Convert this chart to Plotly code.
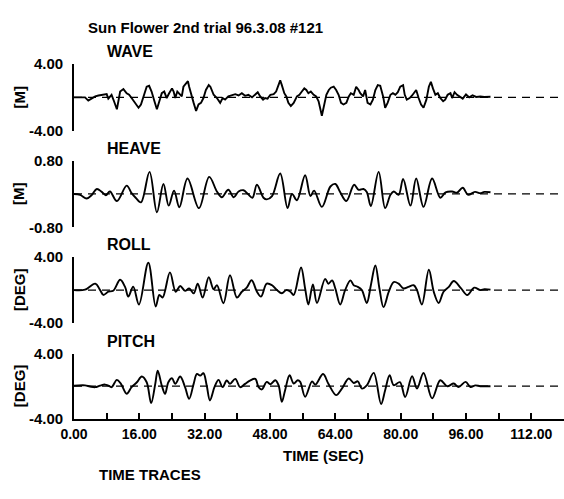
import plotly.graph_objects as go

# ---------------- data ----------------
time_ticks = [0, 8, 16, 24, 32, 40, 48, 56, 64, 72, 80, 88, 96, 104, 112, 120]
time_labels = ["0.00", "", "16.00", "", "32.00", "", "48.00", "", "64.00", "",
               "80.00", "", "96.00", "", "112.00", ""]

zero_t = [0, 120]
zero_v = [0, 0]

wave_t = [0.0, 1.5, 2.7, 3.5, 5.2, 6.0, 7.2, 8.0, 8.4, 9.2, 9.8, 10.5, 11.3, 12.1, 12.9, 13.5,
          14.1, 15.0, 15.8, 16.4, 17.0, 17.8, 18.4, 19.0, 19.7, 20.3, 20.9, 21.5, 22.1, 22.7,
          23.3, 24.0, 24.4, 24.8, 25.3, 25.7, 26.4, 26.8, 27.4, 27.9, 28.2, 28.7, 29.3, 29.9,
          30.5, 31.1, 31.7, 32.3, 33.0, 33.4, 34.2, 35.0, 35.8, 36.4, 37.0, 37.8, 38.7, 39.5,
          40.3, 41.1, 41.9, 42.7, 43.6, 44.4, 45.0, 45.6, 46.3, 46.8, 47.4, 48.1, 48.9, 49.5,
          50.1, 50.5, 50.9, 51.5, 52.0, 52.5, 53.1, 53.8, 54.6, 55.2, 55.8, 56.4, 56.9, 57.4,
          58.0, 58.7, 59.3, 59.9, 60.7, 61.3, 61.8, 62.4, 62.9, 63.6, 64.2, 64.8, 65.4, 66.0,
          66.7, 67.3, 67.8, 68.5, 69.1, 69.7, 70.1, 70.8, 71.3, 71.9, 72.6, 73.2, 73.8, 74.4,
          75.0, 75.7, 76.2, 76.8, 77.5, 78.1, 78.7, 79.3, 79.9, 80.6, 81.0, 81.5, 82.2, 82.8,
          83.3, 83.8, 84.4, 85.0, 85.6, 86.3, 86.9, 87.4, 87.9, 88.5, 89.1, 89.7, 90.4, 90.9,
          91.5, 92.2, 92.6, 93.2, 93.8, 94.5, 95.2, 96.0, 96.8, 97.6, 98.5, 99.5, 100.5, 102.0]
wave_v = [0.0, 0.02, 0.0, -0.39, 0.12, 0.23, 0.31, 0.39, -0.15, 0.31, -0.46, -1.43, 0.70, 1.0, 0.5, 0.31,
          -0.08, -0.66, -1.24, -0.85, 0.12, 1.28, 1.39, 0.70, -0.46, -1.43, -0.46, 0.5, 0.70, -0.08,
          0.5, 1.08, 0.70, -0.08, 0.70, 0.5, 0.12, 1.28, 1.66, 1.94, 1.28, 0.31, -0.66, -1.63,
          -0.85, -0.66, -0.08, 0.89, 1.47, 1.28, 0.31, -0.08, -0.66, -0.08, -0.27, 0.12, 0.31, 0.39,
          0.23, 0.5, 0.19, 0.31, 0.0, 0.31, 0.62, 0.12, -0.27, -0.08, -0.15, 0.31, 0.39, 0.70,
          1.47, 2.05, 1.47, 0.5, 0.12, -0.66, -1.04, -0.66, 0.12, 0.31, 0.70, 1.08, 0.89, 0.5,
          0.70, 0.31, 0.12, -0.46, -2.2, -0.85, 0.31, 0.89, 1.16, 1.28, 0.89, 0.31, -0.66, -0.85,
          -0.66, 0.12, 0.5, 0.31, 1.28, 0.89, 0.5, 0.12, 0.89, -0.66, -0.85, -0.27, 0.89, 1.47,
          1.39, 0.12, -1.24, -0.66, 0.31, 0.5, 0.31, 0.62, 1.28, 1.47, 0.31, -0.27, -0.08, 0.23,
          0.5, 0.89, -0.08, -0.85, -1.24, -0.27, 1.28, 1.86, 1.08, 0.31, 0.5, -0.08, -0.46, -0.27,
          0.31, 0.5, -0.08, 0.62, 0.31, 0.12, -0.15, 0.35, 0.0, 0.25, 0.05, 0.1, 0.05, 0.08]

heave_t = [0.0, 1.5, 3.1, 4.3, 5.6, 6.8, 7.8, 8.8, 10.5, 12.9, 14.1, 15.1, 16.4, 18.5, 20.3, 21.9,
           23.2, 24.5, 25.8, 27.8, 30.6, 33.1, 35.0, 36.2, 37.8, 39.1, 40.3, 41.5, 42.6, 43.7,
           44.8, 46.4, 47.2, 48.5, 50.5, 52.3, 53.4, 54.6, 56.6, 57.9, 58.8, 60.7, 62.8, 64.0,
           65.2, 66.7, 68.6, 69.7, 70.9, 71.7, 72.7, 74.6, 76.2, 77.5, 78.3, 79.5, 80.6, 82.4,
           83.8, 85.6, 87.7, 89.7, 91.0, 92.6, 93.8, 95.2, 96.5, 98.2, 99.5, 100.5, 102.0]
heave_v = [0.0, -0.02, -0.11, -0.03, 0.12, 0.05, -0.03, 0.06, -0.17, 0.20, 0.02, -0.09, -0.20, 0.53, -0.44, 0.24,
           -0.28, 0.08, -0.32, 0.37, -0.34, 0.41, 0.06, -0.08, 0.10, -0.08, 0.06, 0.09, 0.0, -0.09,
           0.22, -0.09, -0.13, -0.05, 0.49, -0.34, 0.0, -0.15, 0.45, -0.05, 0.08, -0.31, 0.18, 0.24,
           0.04, -0.17, 0.22, 0.10, 0.12, 0.05, -0.29, 0.53, -0.34, -0.02, 0.06, -0.02, 0.36, -0.28,
           0.37, -0.31, 0.37, -0.09, 0.04, 0.06, 0.03, 0.15, -0.02, 0.05, 0.02, 0.05, 0.04]

roll_t = [0.0, 2.7, 5.2, 6.4, 7.2, 8.4, 9.6, 11.3, 12.5, 13.3, 14.5, 15.9, 18.2, 20.0, 20.9, 21.7,
          23.5, 24.9, 26.0, 27.2, 28.2, 29.3, 30.3, 31.5, 33.0, 34.2, 35.0, 36.6, 38.2, 39.9,
          41.1, 42.3, 43.5, 44.8, 45.8, 47.2, 48.5, 49.7, 50.9, 52.0, 53.0, 53.8, 55.6, 56.6,
          57.4, 58.5, 59.5, 61.5, 62.3, 63.2, 64.0, 65.2, 66.4, 67.7, 68.5, 69.5, 70.5, 71.7,
          72.7, 73.8, 74.8, 75.8, 77.1, 78.3, 79.5, 80.7, 81.9, 83.2, 84.0, 85.2, 86.9, 88.1,
          89.3, 90.5, 91.8, 93.0, 94.8, 96.3, 98.0, 99.5, 100.5, 102.0]
roll_v = [0.0, 0.05, 0.78, 0.0, -0.59, -0.2, -0.08, 1.25, 0.39, -0.78, 0.4, -1.76, 3.33, -2.0, -0.6, -0.9,
          2.16, -0.2, 0.5, -0.1, 0.2, -0.4, 0.78, -0.9, 1.57, 0.1, 0.6, -1.6, 1.8, -0.9,
          -0.2, 0.3, 1.2, -0.2, -0.8, 0.78, 0.59, 0.0, -0.39, 0.0, -0.2, -0.59, 2.75, 0.2,
          -1.76, 0.7, -1.57, 1.37, 0.78, 1.18, 0.2, -1.76, 0.0, 1.18, 0.59, 0.39, 0.0, -1.57,
          0.59, 3.0, 0.2, -2.08, -0.2, 0.98, 0.78, 0.2, 0.39, 0.59, 0.0, -1.76, 2.47, -0.2,
          -1.57, -0.2, 0.39, 1.1, 0.2, -0.6, 0.3, 0.0, 0.1, 0.05]

pitch_t = [0.0, 2.7, 3.9, 5.2, 6.4, 7.6, 8.4, 9.2, 10.5, 11.5, 12.9, 14.1, 15.4, 16.6, 17.8, 18.9,
           19.9, 20.5, 21.5, 22.3, 23.1, 24.0, 24.8, 26.0, 27.2, 28.2, 29.3, 30.1, 30.9, 31.7,
           32.5, 33.3, 34.4, 35.4, 36.4, 37.4, 38.2, 39.5, 40.7, 41.9, 43.1, 44.4, 45.2, 46.0,
           47.2, 48.1, 49.3, 50.1, 50.9, 51.7, 52.8, 53.8, 54.8, 55.4, 56.6, 58.3, 59.1, 61.0,
           62.3, 64.2, 65.6, 67.3, 68.5, 69.5, 70.5, 71.7, 73.4, 75.2, 76.2, 77.3, 78.3, 79.8,
           81.1, 82.8, 84.0, 85.6, 87.7, 89.7, 91.4, 93.0, 94.2, 95.9, 97.1, 98.3, 99.5, 102.0]
pitch_v = [0.05, 0.1, -0.04, -0.12, 0.08, 0.2, 0.08, -0.12, 0.78, 0.29, -0.94, -0.12, 0.49, 1.19, 0.49, -2.09,
           0.29, 1.93, 0.08, -0.94, 0.49, 0.98, 0.29, 1.19, -0.12, -1.56, 0.29, 1.52, 1.31, 1.6,
           0.08, -1.76, -0.12, 0.78, -0.12, 0.7, 0.29, 0.9, -0.12, 0.29, 0.7, 0.9, -0.12, -0.4,
           0.53, 0.25, 0.74, 0.12, -1.93, -0.49, 1.35, 0.33, 0.74, 0.53, -1.3, 0.6, 0.2, 1.5,
           0.3, -1.1, -0.3, 0.95, 0.4, 0.6, -0.3, 0.1, 1.64, -2.2, -0.5, 1.35, 0.12, 0.5,
           -1.33, 1.23, -0.3, 1.64, -1.5, 0.74, 0.0, 0.33, -0.1, 0.53, -0.1, 0.1, 0.0, 0.0]

panel_names = ["WAVE", "HEAVE", "ROLL", "PITCH"]
panel_units = ["[M]", "[M]", "[DEG]", "[DEG]"]
panel_ranges = [[-4, 4], [-0.8, 0.8], [-4, 4], [-4, 4]]
panel_ticktext = [["-4.00", "4.00"], ["-0.80", "0.80"], ["-4.00", "4.00"], ["-4.00", "4.00"]]
series_t = [wave_t, heave_t, roll_t, pitch_t]
series_v = [wave_v, heave_v, roll_v, pitch_v]
series_shape = ["linear", "spline", "spline", "spline"]

# ---------------- layout ----------------
W, H = 564, 499
ML = 74
panel_px = [(57, 126), (157, 226), (257, 325), (357, 424)]  # top, bottom pixel rows

FONT = "Liberation Sans Narrow, Arial Narrow, Liberation Sans, Arial, sans-serif"

def py(ypx):
    return 1 - ypx / H

def px(xpx):
    return (xpx - ML) / (W - ML)

fig = go.Figure()
layout = dict(
    width=W, height=H,
    margin=dict(l=ML, r=0, t=0, b=0),
    paper_bgcolor="white", plot_bgcolor="white",
    showlegend=False,
    font=dict(family=FONT, color="black", size=15, weight="bold"),
)

annotations = []
for i in range(4):
    k = i + 1
    xa = "x" if k == 1 else f"x{k}"
    ya = "y" if k == 1 else f"y{k}"
    fig.add_trace(go.Scatter(x=zero_t, y=zero_v, mode="lines", xaxis=xa, yaxis=ya,
                             line=dict(color="black", width=1.3, dash="8px,6px"),
                             hoverinfo="skip"))
    fig.add_trace(go.Scatter(x=series_t[i], y=series_v[i], mode="lines", xaxis=xa, yaxis=ya,
                             line=dict(color="black", width=1.9, shape=series_shape[i]),
                             name=panel_names[i]))
    top, bot = panel_px[i]
    xkey = "xaxis" if k == 1 else f"xaxis{k}"
    ykey = "yaxis" if k == 1 else f"yaxis{k}"
    xa_dict = dict(domain=[0, 1], anchor=ya, range=[0, 120], showgrid=False, zeroline=False)
    if k < 4:
        xa_dict.update(visible=False)
    else:
        xa_dict.update(showline=True, linecolor="black", linewidth=1.7,
                       tickmode="array", tickvals=time_ticks, ticktext=time_labels,
                       ticks="inside", ticklen=6, tickwidth=1.5, tickcolor="black",
                       ticklabelstandoff=2,
                       tickfont=dict(family=FONT, size=14, weight="bold"))
    layout[xkey] = xa_dict
    rng = panel_ranges[i]
    layout[ykey] = dict(domain=[py(bot), py(top)], anchor=xa, range=rng,
                        showline=True, linecolor="black", linewidth=1.7,
                        tickmode="array", tickvals=rng, ticktext=panel_ticktext[i],
                        ticks="inside", ticklen=6, tickwidth=1.5, tickcolor="black",
                        ticklabelstandoff=6,
                        showgrid=False, zeroline=False,
                        tickfont=dict(family=FONT, size=15, weight="bold"))
    annotations.append(dict(text=panel_units[i], xref="paper", yref="paper",
                            x=px(19), y=py((top + bot) / 2), textangle=-90,
                            showarrow=False, xanchor="center", yanchor="middle",
                            font=dict(family=FONT, size=15, weight="bold")))
    annotations.append(dict(text=panel_names[i], xref="paper", yref="paper",
                            x=px(105), y=py(top - 13), showarrow=False,
                            xanchor="left", yanchor="middle",
                            font=dict(family=FONT, size=16, weight="bold")))

annotations.append(dict(text="Sun Flower 2nd trial 96.3.08 #121", xref="paper", yref="paper",
                        x=px(86), y=py(19), showarrow=False, xanchor="left", yanchor="middle",
                        font=dict(family=FONT, size=15, weight="bold")))
annotations.append(dict(text="TIME (SEC)", xref="paper", yref="paper",
                        x=px(323), y=py(462), showarrow=False, xanchor="center", yanchor="middle",
                        font=dict(family=FONT, size=15, weight="bold")))
annotations.append(dict(text="TIME TRACES", xref="paper", yref="paper",
                        x=px(97), y=py(482), showarrow=False, xanchor="left", yanchor="middle",
                        font=dict(family=FONT, size=15, weight="bold")))
layout["annotations"] = annotations

fig.update_layout(**layout)
fig.write_html("out.html", config={"displayModeBar": False})
